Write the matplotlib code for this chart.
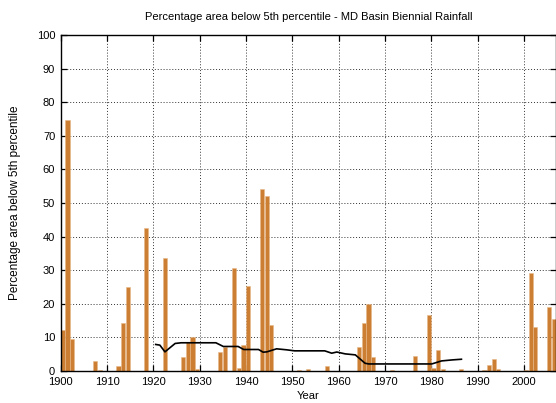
import matplotlib
matplotlib.use("Agg")
import matplotlib.pyplot as plt

plt.rcParams['font.family'] = ['Liberation Sans', 'DejaVu Sans']

# Annual percentage of basin area below the 5th percentile
years = [1900, 1901, 1902, 1907, 1908, 1912, 1913, 1914, 1918, 1922,
         1926, 1927, 1928, 1929, 1934, 1935, 1937, 1938, 1939, 1940,
         1943, 1944, 1945, 1951, 1953, 1957, 1964, 1965, 1966, 1967,
         1971, 1976, 1979, 1980, 1981, 1982, 1986, 1991, 1992, 1993,
         1994, 2000, 2001, 2002, 2005, 2006]
values = [12.2, 74.7, 9.4, 3.0, 0.3, 1.5, 14.2, 25.0, 42.6, 33.6,
          4.3, 8.5, 10.0, 0.5, 5.8, 7.2, 30.6, 1.0, 7.7, 25.3,
          54.2, 52.0, 13.7, 0.4, 0.5, 1.5, 7.2, 14.2, 19.9, 4.2,
          0.3, 4.5, 16.7, 0.9, 6.25, 0.5, 0.5, 0.3, 1.7, 3.6,
          0.5, 0.3, 29.3, 13.2, 19.0, 15.5]

# Running mean curve
mean_years = [1920.5, 1921.4, 1922.5, 1924.7, 1926.0, 1933.5, 1935.1, 1938.3,
              1939.5, 1942.7, 1943.7, 1944.5, 1946.6, 1948.8, 1950.5, 1957.0,
              1958.5, 1959.6, 1961.4, 1963.6, 1965.7, 1966.5, 1980.1, 1982.2,
              1984.5, 1986.5]
mean_values = [7.9, 7.7, 5.7, 8.2, 8.4, 8.4, 7.3, 7.3,
               6.4, 6.4, 5.6, 5.7, 6.6, 6.3, 6.0, 6.0,
               5.3, 5.65, 5.1, 4.8, 2.3, 2.1, 2.1, 3.0,
               3.3, 3.5]

x_ticks = list(range(1900, 2001, 10))
y_ticks = list(range(0, 101, 10))

fig = plt.figure(figsize=(5.56, 4.03), dpi=100)
ax = fig.add_axes([0.1092, 0.0794, 0.8915, 0.8337])

ax.bar(years, values, width=0.92, align='edge', color='#cc7f33',
       edgecolor='#e8b888', linewidth=0.4, zorder=2)
ax.plot(mean_years, mean_values, color='black', linewidth=1.2, zorder=3)

ax.set_xlim(1900, 2007)
ax.set_ylim(0, 100)
ax.set_xticks(x_ticks)
ax.set_yticks(y_ticks)
ax.tick_params(direction='in', length=4, width=0.9, top=True, right=True,
               labelsize=8, colors='black', pad=4)
ax.grid(True, color='#333333', linestyle=(0, (1, 2)), linewidth=0.7, zorder=1)
for s in ax.spines.values():
    s.set_linewidth(1.0)
    s.set_color('black')

ax.set_title('Percentage area below 5th percentile - MD Basin Biennial Rainfall',
             fontsize=8, pad=11)
ax.set_xlabel('Year', fontsize=8, labelpad=3)
ax.set_ylabel('Percentage area below 5th percentile', fontsize=8.5, labelpad=11)

fig.savefig('out.png', dpi=100)
